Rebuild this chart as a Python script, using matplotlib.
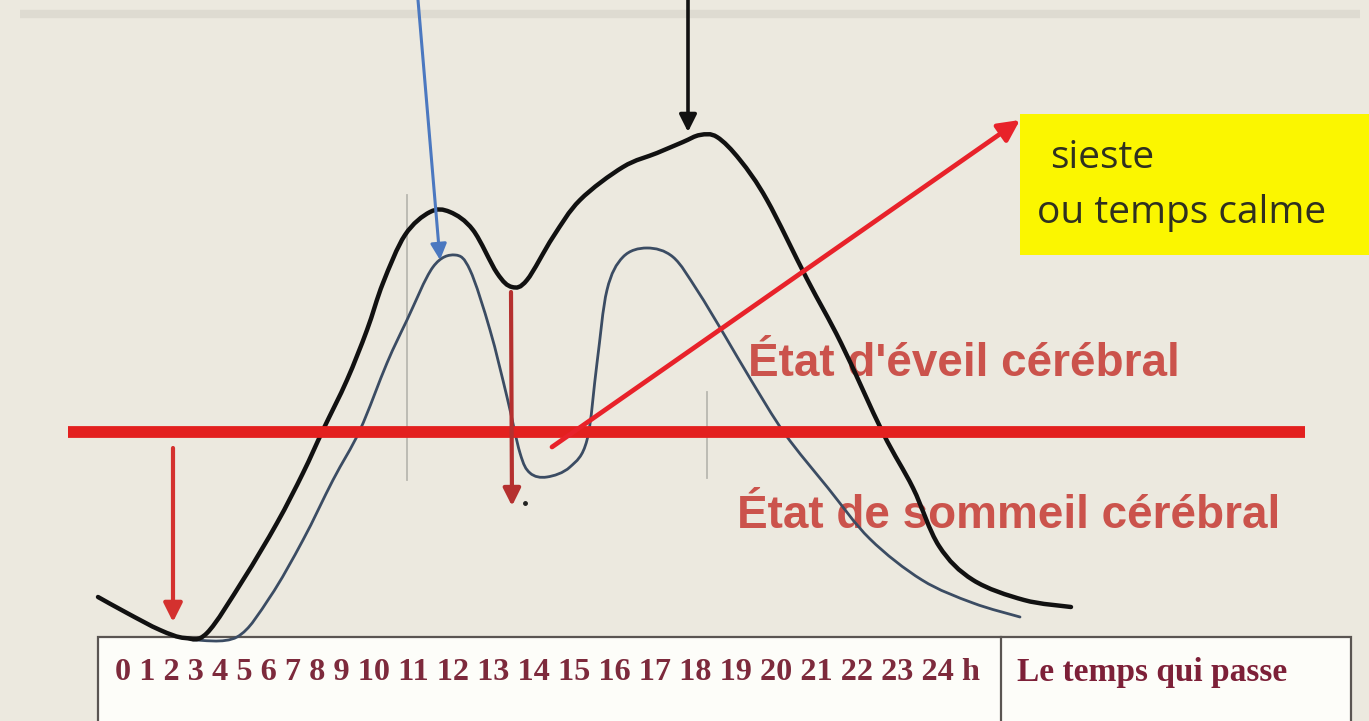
import matplotlib
matplotlib.use("Agg")
import matplotlib.pyplot as plt
import numpy as np
from matplotlib.patches import Rectangle, FancyArrowPatch, PathPatch
from matplotlib.path import Path

# schematic drawn on a canvas of 1369 x 721 units (x right, y down)
W, H = 1369, 721

# black curve: general arousal level over the day
black_x = [98, 127, 160, 185, 207, 243, 277, 303, 323, 347, 367, 383, 405,
           430, 450, 473, 497, 512, 527, 553, 580, 623, 657, 683, 700, 717,
           740, 767, 807, 841, 883, 913, 939, 973, 1024, 1071]
black_y = [597, 613, 630, 638, 633, 580, 523, 473, 430, 380, 330, 283, 235,
           212, 212, 230, 273, 287, 280, 237, 200, 167, 153, 142, 135, 137,
           160, 200, 279, 343, 433, 488, 546, 580, 600, 607]

# blue-grey curve: brain arousal with nap dip
blue_x = [193, 237, 270, 303, 333, 360, 387, 407, 433, 455, 470, 490,
          507, 520, 530, 547, 570, 587, 597, 607, 623, 647, 673, 697, 725,
          751, 785, 828, 870, 922, 973, 1020]
blue_y = [640, 637, 597, 540, 480, 430, 363, 320, 267, 255, 270, 330,
          397, 453, 473, 477, 467, 440, 363, 290, 257, 248, 257, 290, 336,
          380, 434, 488, 539, 580, 603, 617]

threshold_y = 432
threshold_x = [68, 1305]

hour_labels = [str(h) for h in range(25)] + ["h"]


def smooth(xs, ys):
    # Catmull-Rom through the points, drawn as cubic Bezier segments
    p = np.column_stack([xs, ys]).astype(float)
    verts = [p[0]]
    codes = [Path.MOVETO]
    n = len(p)
    for i in range(n - 1):
        p0 = p[i - 1] if i > 0 else p[i]
        p3 = p[i + 2] if i + 2 < n else p[i + 1]
        verts += [p[i] + (p[i + 1] - p0) / 6, p[i + 1] - (p3 - p[i]) / 6, p[i + 1]]
        codes += [Path.CURVE4] * 3
    return Path(verts, codes)


fig = plt.figure(figsize=(W / 100, H / 100), dpi=100)
fig.patch.set_facecolor("#ece9df")
ax = fig.add_axes([0, 0, 1, 1])
ax.set_xlim(0, W)
ax.set_ylim(H, 0)
ax.axis("off")
ax.set_facecolor("#ece9df")

# faint band on top
ax.plot([20, 1360], [14, 14], color="#dedbd1", lw=6, solid_capstyle="butt")

# faint vertical guides
ax.plot([407, 407], [195, 480], color="#b9b8b0", lw=1.3)
ax.plot([707, 707], [392, 478], color="#b9b8b0", lw=1.3)

# yellow label box
ax.add_patch(Rectangle((1020, 114), W - 1020, 141, facecolor="#fbf600",
                       edgecolor="none", zorder=2))
ax.text(1050, 158, "sieste", fontsize=28, family="Open Sans", color="#2f3020",
        va="center", ha="left", zorder=3)
ax.text(1037, 213, "ou temps calme", fontsize=28, family="Open Sans",
        color="#2f3020", va="center", ha="left", zorder=3)

# curves
ax.add_patch(PathPatch(smooth(blue_x, blue_y), facecolor="none",
                       edgecolor="#3b4c63", lw=2.0, capstyle="round",
                       joinstyle="round", zorder=4))
ax.add_patch(PathPatch(smooth(black_x, black_y), facecolor="none",
                       edgecolor="#111111", lw=3.2, capstyle="round",
                       joinstyle="round", zorder=5))

# threshold line
ax.plot(threshold_x, [threshold_y, threshold_y], color="#e3201f", lw=8.5,
        solid_capstyle="butt", zorder=6)

# state labels
ax.text(748, 364, "État d'éveil cérébral", fontsize=33, weight="bold",
        family="Liberation Sans", color="#c8433c", alpha=0.9, va="center",
        ha="left", zorder=3)
ax.text(737, 516, "État de sommeil cérébral", fontsize=33, weight="bold",
        family="Liberation Sans", color="#c8433c", alpha=0.9, va="center",
        ha="left", zorder=3)


def arrow(x0, y0, x1, y1, color, lw, ms, z=7):
    ax.add_patch(FancyArrowPatch((x0, y0), (x1, y1), arrowstyle="-|>",
                                 mutation_scale=ms, color=color, lw=lw,
                                 shrinkA=0, shrinkB=0, zorder=z))


arrow(552, 447, 1020, 120, "#e8222a", 3.4, 32)
arrow(173, 448, 173, 622, "#d4312f", 3.0, 28)
arrow(511, 292, 512, 506, "#b5302f", 3.0, 26)
arrow(418, 0, 440, 260, "#4b78c0", 2.2, 24)
arrow(688, 0, 688, 132, "#111111", 2.6, 26)
ax.plot([525], [503], marker="o", ms=2.5, color="#222222", zorder=7)

# time box at the bottom
ax.add_patch(Rectangle((98, 637), 1253, 90, facecolor="#fdfdf9",
                       edgecolor="#5a5552", lw=1.6, zorder=3))
ax.plot([1001, 1001], [637, H], color="#5a5552", lw=1.6, zorder=3)
ax.text(115, 673, " ".join(hour_labels), fontsize=23.2, weight="bold",
        family="Liberation Serif", color="#7d2a3c", va="center", ha="left",
        zorder=4)
ax.text(1017, 673, "Le temps qui passe", fontsize=24, weight="bold",
        family="Liberation Serif", color="#7d2038", va="center", ha="left",
        zorder=4)

fig.savefig("out.png", dpi=100, facecolor=fig.get_facecolor())
